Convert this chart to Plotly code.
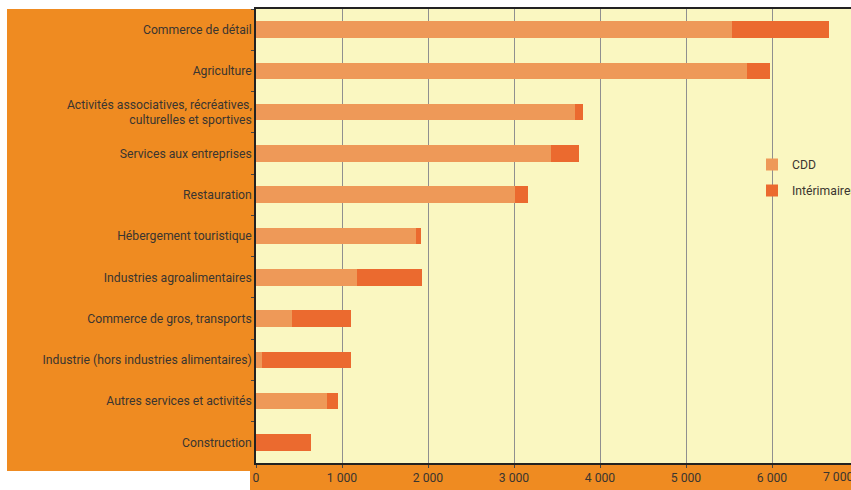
import plotly.graph_objects as go

categories = [
    "Commerce de détail",
    "Agriculture",
    "Activités associatives, récréatives,<br>culturelles et sportives",
    "Services aux entreprises",
    "Restauration",
    "Hébergement touristique",
    "Industries agroalimentaires",
    "Commerce de gros, transports",
    "Industrie (hors industries alimentaires)",
    "Autres services et activités",
    "Construction",
]
cdd = [5540, 5710, 3715, 3430, 3010, 1855, 1170, 413, 75, 820, 0]
interim = [1120, 265, 90, 320, 155, 60, 765, 697, 1035, 128, 634]
x_ticks = [0, 1000, 2000, 3000, 4000, 5000, 6000]
x_ticktext = ["0", "1 000", "2 000", "3 000", "4 000", "5 000", "6 000"]
last_tick_text = "7 000"

FONT = "Roboto, Lato, sans-serif"
FS = 12.2
ORANGE = "#EF8B21"
TEXT = "#3a3530"

fig = go.Figure()
fig.add_trace(go.Bar(y=categories, x=cdd, name="CDD", orientation="h", legendgroup="a",
                     marker=dict(color="#EE9958", line=dict(width=0)), width=0.4))
fig.add_trace(go.Bar(y=categories, x=interim, name="Intérimaires", orientation="h", legendgroup="b",
                     marker=dict(color="#EB6A2F", line=dict(width=0)), width=0.4))

W, H = 851, 490
L, R, T, B = 256, 0, 9, 27
pw = W - L - R
ph = H - T - B

def px_x(p):
    return (p - L) / pw

def px_y(p):
    return (H - B - p) / ph

shapes = [
    dict(type="rect", xref="paper", yref="paper", x0=px_x(7), x1=0, y0=px_y(471), y1=1,
         fillcolor=ORANGE, line=dict(width=0), layer="below"),
    dict(type="rect", xref="paper", yref="paper", x0=px_x(250), x1=1.05, y0=px_y(492), y1=0,
         fillcolor=ORANGE, line=dict(width=0), layer="below"),
]

fig.update_layout(
    width=W, height=H,
    margin=dict(l=L, r=R, t=T, b=B, pad=0, autoexpand=False),
    barmode="stack",
    paper_bgcolor="white",
    plot_bgcolor="#FAF7C1",
    font=dict(family=FONT, size=FS, color=TEXT),
    shapes=shapes,
    showlegend=True,
    legend=dict(x=px_x(752), y=px_y(150), xanchor="left", yanchor="top",
                bgcolor="rgba(0,0,0,0)", traceorder="grouped",
                font=dict(family=FONT, size=FS, color=TEXT),
                itemwidth=30, tracegroupgap=7),
    annotations=[dict(xref="paper", yref="paper", x=px_x(838), y=px_y(477),
                      text=last_tick_text, showarrow=False, xanchor="center", yanchor="middle",
                      font=dict(family=FONT, size=FS, color=TEXT))],
)
fig.update_xaxes(
    range=[0, pw / 86.0 * 1000], tickvals=x_ticks, ticktext=x_ticktext,
    showgrid=True, gridcolor="#8f8f8f", gridwidth=1.3,
    showline=True, linecolor="#222222", linewidth=1.5, mirror=True,
    ticks="outside", ticklen=3, tickcolor="#444444", zeroline=False,
    tickfont=dict(family=FONT, size=FS, color=TEXT),
)
fig.update_yaxes(
    range=[10.5, -0.5], type="category", tickson="boundaries",
    showgrid=False, showline=True, linecolor="#222222", linewidth=1.5,
    ticks="outside", ticklen=3, tickcolor="#444444",
    tickfont=dict(family=FONT, size=FS, color=TEXT),
)

fig.write_html("out.html", config={"displayModeBar": False},
               post_script="document.body.style.margin='0px';document.body.style.overflow='hidden';")
